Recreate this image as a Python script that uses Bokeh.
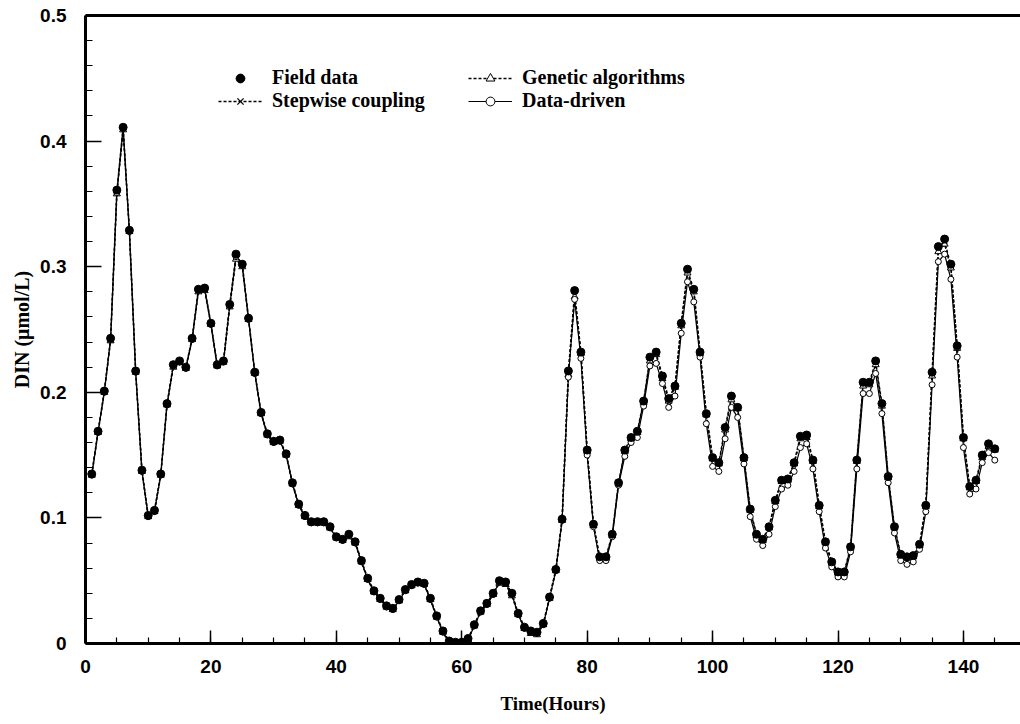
from bokeh.plotting import figure
from bokeh.models import (Range1d, LinearAxis, FixedTicker, SingleIntervalTicker,
                          Legend, LegendItem, NumeralTickFormatter)
from bokeh.embed import file_html
from bokeh.resources import INLINE

hours = list(range(1, 146))

field_data = [
    0.135, 0.169, 0.201, 0.243, 0.361, 0.411, 0.329, 0.217, 0.138, 0.102,
    0.106, 0.135, 0.191, 0.222, 0.225, 0.220, 0.243, 0.282, 0.283, 0.255,
    0.222, 0.225, 0.270, 0.310, 0.302, 0.259, 0.216, 0.184, 0.167, 0.161,
    0.162, 0.151, 0.128, 0.111, 0.102, 0.097, 0.097, 0.097, 0.093, 0.085,
    0.083, 0.087, 0.081, 0.066, 0.052, 0.042, 0.036, 0.030, 0.028, 0.035,
    0.043, 0.047, 0.049, 0.048, 0.036, 0.022, 0.010, 0.002, 0.001, 0.001,
    0.004, 0.015, 0.026, 0.032, 0.040, 0.050, 0.049, 0.040, 0.024, 0.013,
    0.010, 0.009, 0.016, 0.037, 0.059, 0.099, 0.217, 0.281, 0.232, 0.154,
    0.095, 0.069, 0.069, 0.087, 0.128, 0.154, 0.164, 0.169, 0.193, 0.228,
    0.232, 0.213, 0.195, 0.205, 0.255, 0.298, 0.282, 0.232, 0.183, 0.148,
    0.144, 0.172, 0.197, 0.188, 0.148, 0.107, 0.087, 0.083, 0.093, 0.114,
    0.130, 0.131, 0.144, 0.165, 0.166, 0.146, 0.110, 0.081, 0.065, 0.057,
    0.057, 0.077, 0.146, 0.208, 0.208, 0.225, 0.191, 0.133, 0.093, 0.071,
    0.069, 0.070, 0.079, 0.110, 0.216, 0.316, 0.322, 0.302, 0.237, 0.164,
    0.125, 0.130, 0.150, 0.159, 0.155]

genetic_algorithms = [
    0.134, 0.168, 0.200, 0.241, 0.358, 0.409, 0.328, 0.216, 0.137, 0.101,
    0.105, 0.134, 0.190, 0.220, 0.224, 0.219, 0.242, 0.280, 0.281, 0.254,
    0.221, 0.224, 0.268, 0.306, 0.300, 0.258, 0.215, 0.183, 0.166, 0.160,
    0.161, 0.150, 0.127, 0.110, 0.101, 0.096, 0.096, 0.096, 0.092, 0.084,
    0.082, 0.085, 0.080, 0.065, 0.051, 0.041, 0.035, 0.029, 0.027, 0.034,
    0.042, 0.046, 0.048, 0.047, 0.035, 0.021, 0.009, 0.000, 0.000, 0.000,
    0.003, 0.014, 0.025, 0.031, 0.039, 0.048, 0.047, 0.038, 0.023, 0.012,
    0.008, 0.007, 0.015, 0.036, 0.058, 0.098, 0.214, 0.276, 0.231, 0.153,
    0.094, 0.068, 0.068, 0.086, 0.127, 0.153, 0.163, 0.168, 0.192, 0.225,
    0.230, 0.211, 0.193, 0.204, 0.253, 0.295, 0.280, 0.231, 0.182, 0.147,
    0.143, 0.170, 0.194, 0.187, 0.147, 0.106, 0.086, 0.082, 0.092, 0.113,
    0.129, 0.130, 0.143, 0.163, 0.164, 0.145, 0.109, 0.080, 0.064, 0.056,
    0.056, 0.076, 0.145, 0.205, 0.206, 0.222, 0.189, 0.132, 0.092, 0.070,
    0.068, 0.069, 0.078, 0.109, 0.213, 0.312, 0.318, 0.299, 0.235, 0.163,
    0.124, 0.129, 0.148, 0.157, 0.154]

stepwise_coupling = [
    0.135, 0.169, 0.201, 0.242, 0.360, 0.411, 0.329, 0.217, 0.138, 0.102,
    0.106, 0.135, 0.191, 0.222, 0.225, 0.220, 0.243, 0.282, 0.283, 0.255,
    0.222, 0.225, 0.270, 0.309, 0.302, 0.259, 0.216, 0.184, 0.167, 0.161,
    0.162, 0.151, 0.128, 0.111, 0.102, 0.097, 0.097, 0.097, 0.093, 0.085,
    0.083, 0.087, 0.081, 0.066, 0.052, 0.042, 0.036, 0.030, 0.028, 0.035,
    0.043, 0.047, 0.049, 0.048, 0.036, 0.022, 0.010, 0.002, 0.001, 0.001,
    0.004, 0.015, 0.026, 0.032, 0.040, 0.050, 0.049, 0.040, 0.024, 0.013,
    0.010, 0.009, 0.016, 0.037, 0.059, 0.099, 0.216, 0.280, 0.232, 0.154,
    0.095, 0.069, 0.069, 0.087, 0.128, 0.154, 0.164, 0.169, 0.193, 0.227,
    0.231, 0.213, 0.195, 0.205, 0.255, 0.297, 0.282, 0.232, 0.183, 0.148,
    0.144, 0.172, 0.196, 0.188, 0.148, 0.107, 0.087, 0.083, 0.093, 0.114,
    0.130, 0.131, 0.144, 0.165, 0.166, 0.146, 0.110, 0.081, 0.065, 0.057,
    0.057, 0.077, 0.146, 0.207, 0.208, 0.224, 0.191, 0.133, 0.093, 0.071,
    0.069, 0.070, 0.079, 0.110, 0.215, 0.315, 0.320, 0.301, 0.237, 0.164,
    0.125, 0.130, 0.150, 0.159, 0.155]

data_driven = [
    0.134, 0.168, 0.200, 0.242, 0.359, 0.410, 0.328, 0.216, 0.137, 0.101,
    0.105, 0.134, 0.190, 0.221, 0.224, 0.219, 0.242, 0.281, 0.282, 0.254,
    0.221, 0.224, 0.269, 0.308, 0.301, 0.258, 0.215, 0.183, 0.166, 0.160,
    0.161, 0.150, 0.127, 0.110, 0.101, 0.096, 0.096, 0.096, 0.092, 0.084,
    0.082, 0.086, 0.080, 0.065, 0.051, 0.041, 0.035, 0.029, 0.027, 0.034,
    0.042, 0.046, 0.048, 0.047, 0.035, 0.021, 0.009, 0.001, 0.000, 0.000,
    0.003, 0.014, 0.025, 0.031, 0.039, 0.049, 0.048, 0.039, 0.023, 0.012,
    0.009, 0.008, 0.015, 0.036, 0.058, 0.098, 0.212, 0.274, 0.227, 0.150,
    0.093, 0.066, 0.066, 0.085, 0.126, 0.149, 0.160, 0.164, 0.189, 0.221,
    0.223, 0.207, 0.188, 0.197, 0.247, 0.288, 0.272, 0.228, 0.175, 0.141,
    0.137, 0.163, 0.188, 0.180, 0.143, 0.101, 0.083, 0.078, 0.087, 0.109,
    0.123, 0.126, 0.137, 0.156, 0.159, 0.139, 0.105, 0.076, 0.061, 0.053,
    0.053, 0.073, 0.139, 0.199, 0.199, 0.215, 0.183, 0.128, 0.088, 0.066,
    0.063, 0.065, 0.075, 0.105, 0.206, 0.304, 0.310, 0.290, 0.228, 0.156,
    0.119, 0.123, 0.144, 0.152, 0.146]

SANS = "Liberation Sans"
SERIF = "Liberation Serif"

p = figure(width=1020, height=724, output_backend="svg", toolbar_location=None,
           x_range=Range1d(0, 149.1), y_range=Range1d(0, 0.5),
           min_border_left=85, min_border_top=15, min_border_bottom=81,
           min_border_right=0)
p.grid.visible = False
p.outline_line_color = None

# axes
p.xaxis.ticker = SingleIntervalTicker(interval=20, num_minor_ticks=4)
p.yaxis.ticker = SingleIntervalTicker(interval=0.1, num_minor_ticks=5)
p.yaxis.formatter = NumeralTickFormatter(format="0.[0]")
for ax in (p.xaxis[0], p.yaxis[0]):
    ax.axis_line_width = 3
    ax.axis_line_color = "black"
    ax.major_tick_out = 0
    ax.minor_tick_out = 0
    ax.major_tick_line_width = 1.5
    ax.minor_tick_line_width = 1.2
    ax.major_tick_line_color = "black"
    ax.minor_tick_line_color = "black"
    ax.major_label_text_font = SANS
    ax.major_label_text_font_style = "bold"
    ax.major_label_text_font_size = "19px"
    ax.major_label_text_color = "black"
    ax.axis_label_text_font = SERIF
    ax.axis_label_text_font_style = "bold"
    ax.axis_label_text_font_size = "19px"
    ax.axis_label_text_color = "black"
p.yaxis.axis_label_text_font_size = "20px"
p.xaxis.major_tick_in = 13
p.xaxis.minor_tick_in = 6
p.yaxis.major_tick_in = 16
p.yaxis.minor_tick_in = 7
p.xaxis.major_label_standoff = 16
p.yaxis.major_label_standoff = 19
p.xaxis.axis_label = "Time(Hours)"
p.yaxis.axis_label = "DIN (\u03bcmol/L)"
p.xaxis.axis_label_standoff = 17
p.yaxis.axis_label_standoff = 4

top = LinearAxis(ticker=FixedTicker(ticks=[]), axis_line_width=3,
                 axis_line_color="black", major_label_text_font_size="0px",
                 major_tick_line_color=None, minor_tick_line_color=None)
p.add_layout(top, "above")

# series
dash = "3 2"
l_dd = p.line(hours, data_driven, line_color="black", line_width=1.2)
l_ga = p.line(hours, genetic_algorithms, line_color="black", line_width=1.5, line_dash=dash)
l_sw = p.line(hours, stepwise_coupling, line_color="black", line_width=1.5, line_dash=dash)
m_ga = p.scatter(hours, genetic_algorithms, marker="triangle", size=7,
                 line_color="black", fill_color="white", line_width=1)
m_dd = p.scatter(hours, data_driven, marker="circle", size=6,
                 line_color="black", fill_color="white", line_width=1)
m_sw = p.scatter(hours, stepwise_coupling, marker="x", size=7,
                 line_color="black", line_width=1.3)
m_fd = p.scatter(hours, field_data, marker="circle", size=8,
                 line_color="black", fill_color="black")

def make_legend(items, loc):
    lg = Legend(items=items, location=loc, border_line_color=None,
                background_fill_alpha=0, padding=0, margin=0, spacing=0,
                glyph_width=44, glyph_height=22, label_height=22,
                label_standoff=10, label_text_font=SERIF,
                label_text_font_style="bold", label_text_font_size="20px",
                label_text_color="black")
    return lg

leg1 = make_legend([LegendItem(label="Field data", renderers=[m_fd]),
                    LegendItem(label="Stepwise coupling", renderers=[l_sw, m_sw])],
                   (133, 531))
leg2 = make_legend([LegendItem(label="Genetic algorithms", renderers=[l_ga, m_ga]),
                    LegendItem(label="Data-driven", renderers=[l_dd, m_dd])],
                   (383, 531))
p.add_layout(leg1)
p.add_layout(leg2)

open("out.html", "w").write(file_html(p, INLINE))
